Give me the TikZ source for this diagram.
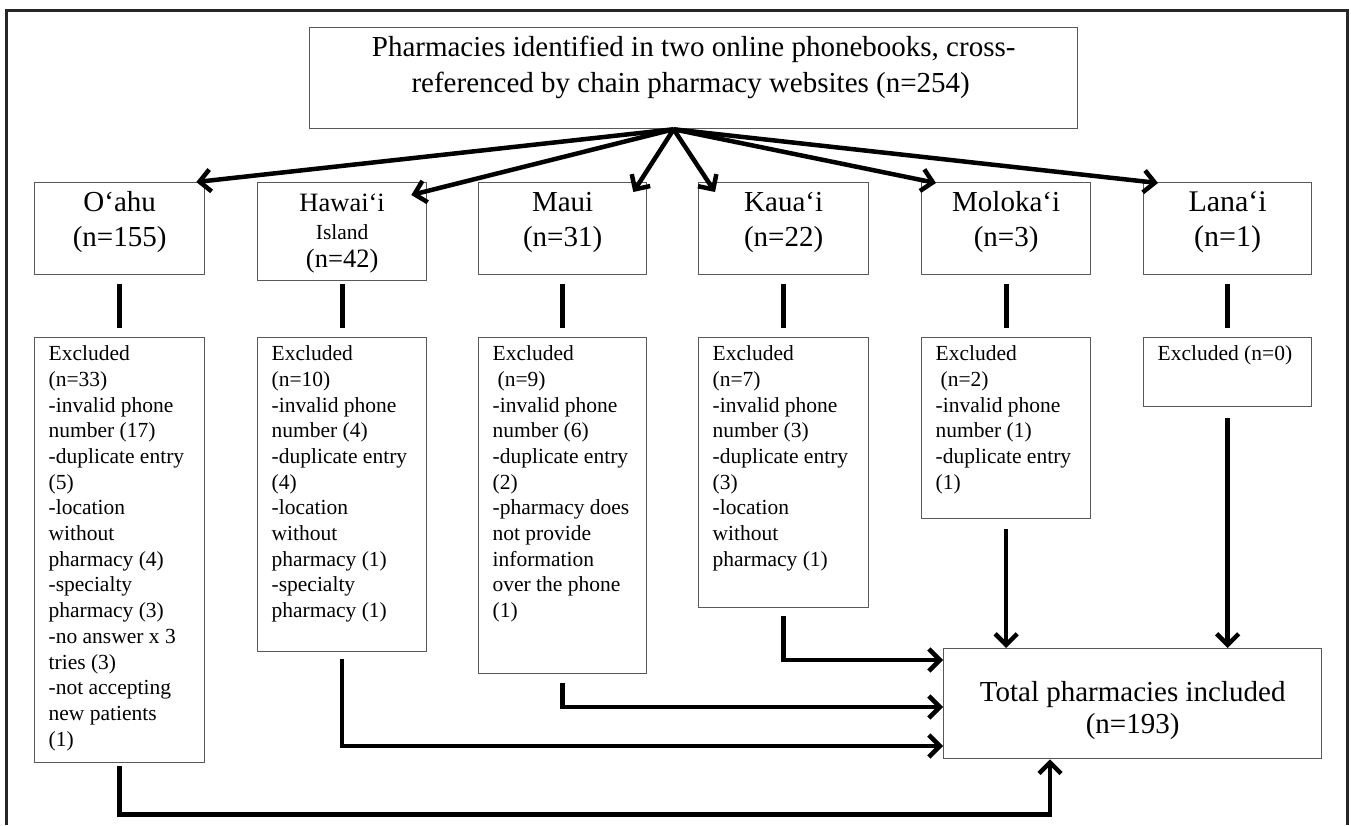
\documentclass[tikz,border=0pt]{standalone}
\usepackage{fontspec}
\setmainfont{Liberation Serif}
\usetikzlibrary{arrows.meta,calc}
\newcommand{\lbox}[4]{\parbox[b][#2][t]{#1}{\raggedright\leftskip=14pt\relax\rule{0pt}{#3}#4}}
\newcommand{\cbox}[4]{\parbox[b][#2][t]{#1}{\centering\rule{0pt}{#3}#4}}
\tikzset{
  box/.style={draw=black!65, line width=1.3pt, inner sep=0pt, anchor=north west},
  excl/.style={box, font=\fontsize{21.5}{25.7}\selectfont},
  isl/.style={box, font=\fontsize{29}{35}\selectfont},
  arr/.style={line width=4.5pt, draw=black, -{Straight Barb[length=11pt,width=22pt]}},
  bar/.style={line width=5pt, draw=black},
  frame/.style={line width=3pt, draw=black!85},
}
\begin{document}
\begin{tikzpicture}[x=1pt,y=-1pt]
\useasboundingbox (0,0) rectangle (1351,825);
\draw[frame] (6,825) -- (6,10) -- (1347,10) -- (1347,825);

% top box
\node[box, font=\fontsize{29}{36}\selectfont] (top) at (309,27)
  {\cbox{768pt}{101pt}{29pt}{Pharmacies identified in two online phonebooks, cross-\\referenced by chain pharmacy websites (n=254)\hspace*{6pt}}};

% island boxes
\node[isl] (oahu) at (34,182) {\cbox{170pt}{92pt}{29pt}{O‘ahu\\(n=155)}};
\node[box, font=\fontsize{26.5}{28}\selectfont] (hawaii) at (257,182)
  {\cbox{169pt}{98pt}{29pt}{Hawai‘i\\{\fontsize{21.5}{28}\selectfont Island}\\(n=42)}};
\node[isl] (maui) at (478,182) {\cbox{168pt}{92pt}{29pt}{Maui\\(n=31)}};
\node[isl] (kauai) at (698,182) {\cbox{170pt}{92pt}{29pt}{Kaua‘i\\(n=22)}};
\node[isl] (molokai) at (921,182) {\cbox{169pt}{92pt}{29pt}{Moloka‘i\\(n=3)}};
\node[box, font=\fontsize{30}{35}\selectfont] (lanai) at (1143,182) {\cbox{168pt}{92pt}{29pt}{Lana‘i\\(n=1)}};

% excluded boxes
\node[excl] (oahuX) at (34,337) {\lbox{170pt}{425pt}{23pt}{Excluded\\(n=33)\\-invalid phone\\number (17)\\-duplicate entry\\(5)\\-location\\without\\pharmacy (4)\\-specialty\\pharmacy (3)\\-no answer x 3\\tries (3)\\-not accepting\\new patients\\(1)}};
\node[excl] (hawaiiX) at (257,337) {\lbox{169pt}{314pt}{23pt}{Excluded\\(n=10)\\-invalid phone\\number (4)\\-duplicate entry\\(4)\\-location\\without\\pharmacy (1)\\-specialty\\pharmacy (1)}};
\node[excl] (mauiX) at (478,337) {\lbox{168pt}{336pt}{23pt}{Excluded\\\hspace*{5pt}(n=9)\\-invalid phone\\number (6)\\-duplicate entry\\(2)\\-pharmacy does\\not provide\\information\\over the phone\\(1)}};
\node[excl] (kauaiX) at (698,337) {\lbox{170pt}{270pt}{23pt}{Excluded\\(n=7)\\-invalid phone\\number (3)\\-duplicate entry\\(3)\\-location\\without\\pharmacy (1)}};
\node[excl] (molokaiX) at (921,337) {\lbox{169pt}{181pt}{23pt}{Excluded\\\hspace*{5pt}(n=2)\\-invalid phone\\number (1)\\-duplicate entry\\(1)}};
\node[excl] (lanaiX) at (1143,337) {\lbox{168pt}{69pt}{23pt}{Excluded (n=0)}};

% total box
\node[box, font=\fontsize{29}{32}\selectfont] (total) at (943,648)
  {\cbox{378pt}{110pt}{53pt}{Total pharmacies included\\(n=193)}};

% arrows from top
\coordinate (hub) at ([xshift=-20pt]top.south);
\coordinate (toa) at ([xshift=-9pt]oahu.north east);
\coordinate (tha) at ([xshift=-16pt,yshift=-13pt]hawaii.north east);
\coordinate (tma) at ([xshift=-14pt,yshift=-10pt]maui.north east);
\coordinate (tka) at ([xshift=17pt,yshift=-10pt]kauai.north west);
\coordinate (tmo) at ([xshift=15pt,yshift=-1pt]molokai.north west);
\coordinate (tla) at ([xshift=15pt,yshift=-1pt]lanai.north west);
\foreach \t in {toa,tha,tma,tka,tmo,tla} \draw[arr] (hub) -- (\t);

% bars
\foreach \a/\s in {oahu/9,hawaii/3,maui/9,kauai/9,molokai/9,lanai/9}
  \draw[bar, shorten <=\s pt, shorten >=9pt] (\a.south) -- (\a X.north);

% to total
\draw[arr, shorten <=11pt] (lanaiX.south) -- (lanaiX.south |- total.north);
\draw[arr, shorten <=10pt] (molokaiX.south) -- (molokaiX.south |- total.north);
\draw[arr, shorten <=8pt] (kauaiX.south) |- ([yshift=-12pt]total.north west);
\draw[arr, shorten <=9pt] (mauiX.south) |- ([yshift=-59pt]total.north west);
\draw[arr, shorten <=7pt] (hawaiiX.south) |- ([yshift=-98pt]total.north west);
\draw[arr, shorten <=3pt] (oahuX.south) -- ++(0,51) -| ([xshift=107pt]total.south west);
\end{tikzpicture}
\end{document}
